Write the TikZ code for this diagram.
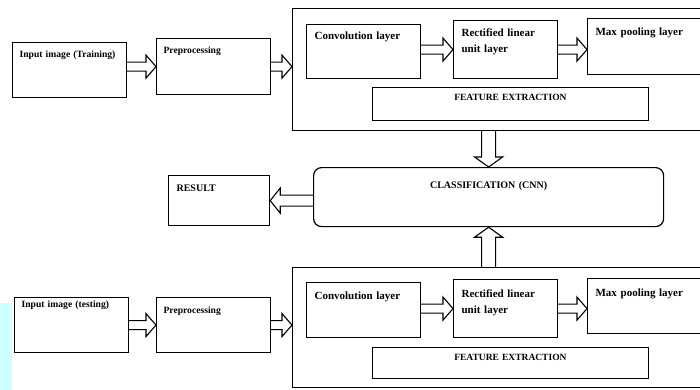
\documentclass[tikz,border=0pt]{standalone}
\usepackage{fontspec}
\setmainfont{Liberation Serif}
\usetikzlibrary{positioning, calc}
\definecolor{haze}{RGB}{208,255,255}

\tikzset{
    box/.style={draw, line width=1.2pt, anchor=north west, align=left,
        inner xsep=7pt, inner ysep=0pt, font=\fontsize{9.6}{12}\selectfont\bfseries},
    layer/.style={box, inner xsep=8pt, font=\fontsize{11}{16}\selectfont\bfseries},
    frame/.style={draw, line width=1.2pt, anchor=north west, inner sep=0pt},
    stage/.style={draw, line width=0.8pt, anchor=north west, align=center,
        inner xsep=8pt, inner ysep=0pt, font=\fontsize{9.5}{12}\selectfont\bfseries},
    hollow/.style={draw, line width=1.1pt, line join=miter},
}

% hollow block arrow: #1 half shaft width, #2 tail, #3 tip
\newcommand{\blockarrow}[3][4.5pt]{%
    \draw[hollow] ($(#2)!#1!90:(#3)$) -- ($(#3)!10pt!(#2)!#1!90:(#3)$)
        -- ($(#3)!10pt!(#2)!#1+7pt!90:(#3)$) -- (#3)
        -- ($(#3)!10pt!(#2)!#1+7pt!-90:(#3)$) -- ($(#3)!10pt!(#2)!#1!-90:(#3)$)
        -- ($(#2)!#1!-90:(#3)$);}

\begin{document}
\begin{tikzpicture}[x=1pt, y=-1pt]
    \useasboundingbox (0, 0) rectangle (700, 390);
    \fill[haze] (0, 303) rectangle (12, 390);

    % training branch
    \node[box, text width=100, text height=15, text depth=40] (intrain) at (12, 42) {Input image (Training)};
    \node[box, text width=100, text height=15, text depth=41] (pretrain) at (156, 38) {Preprocessing};
    \node[frame, minimum width=428, minimum height=122] (outtrain) at (292, 8) {};
    \node[layer, text width=98, text height=15, text depth=39] (convtrain) at (306, 24) {Convolution layer};
    \node[layer, text width=88, text height=16, text depth=42] (relutrain) at (453, 20) {Rectified linear\\unit layer};
    \node[layer, text width=107, text height=17, text depth=39] (pooltrain) at (587, 18) {Max pooling layer};
    \node[stage, text width=260, text height=13, text depth=20] (feattrain) at (372, 87) {FEATURE EXTRACTION};

    % classifier and result
    \node[stage, line width=1.2pt, rounded corners=8pt, font=\fontsize{10}{12}\selectfont\bfseries,
        text width=334, text height=21, text depth=38] (classif) at (313, 167) {CLASSIFICATION (CNN)};
    \node[box, font=\fontsize{10}{12}\selectfont\bfseries, inner xsep=8pt,
        text width=85, text height=16, text depth=34] (result) at (168, 175) {RESULT};

    % testing branch
    \node[box, text width=100, text height=10, text depth=45] (intest) at (14, 297) {Input image (testing)};
    \node[box, text width=100, text height=16, text depth=39] (pretest) at (156, 297) {Preprocessing};
    \node[frame, minimum width=428, minimum height=120] (outtest) at (292, 267) {};
    \node[layer, text width=98, text height=17, text depth=38] (convtest) at (306, 282) {Convolution layer};
    \node[layer, text width=88, text height=18, text depth=40] (relutest) at (453, 279) {Rectified linear\\unit layer};
    \node[layer, text width=107, text height=18, text depth=37] (pooltest) at (587, 278) {Max pooling layer};
    \node[stage, text width=260, text height=13, text depth=18] (feattest) at (372, 347) {FEATURE EXTRACTION};

    \blockarrow{intrain.east |- pretrain.west}{pretrain.west}
    \blockarrow{pretrain.east}{outtrain.west |- pretrain.east}
    \blockarrow{convtrain.east |- relutrain.west}{relutrain.west}
    \blockarrow{relutrain.east}{pooltrain.west |- relutrain.east}
    \blockarrow[7pt]{outtrain.south -| classif.north}{classif.north}
    \blockarrow[5.5pt]{classif.west |- result.east}{result.east}
    \blockarrow[7pt]{outtest.north -| classif.south}{classif.south}
    \blockarrow{intest.east |- pretest.west}{pretest.west}
    \blockarrow{pretest.east}{outtest.west |- pretest.east}
    \blockarrow{convtest.east |- relutest.west}{relutest.west}
    \blockarrow{relutest.east}{pooltest.west |- relutest.east}
\end{tikzpicture}
\end{document}
